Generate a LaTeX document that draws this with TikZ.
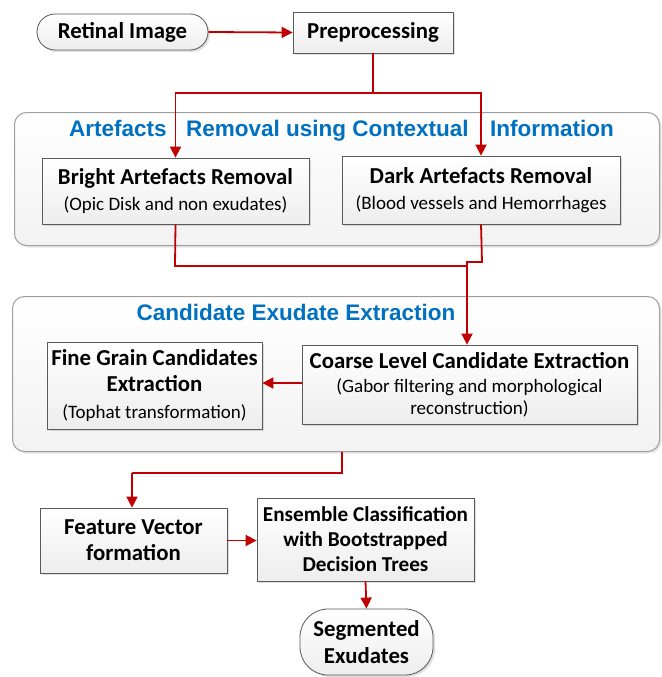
\documentclass[tikz,border=0pt]{standalone}
\usepackage{fontspec}
\setmainfont{Carlito}
\newfontfamily\titlefont{Liberation Sans}
\usetikzlibrary{shadows,arrows.meta,shapes.misc}
\definecolor{arrowred}{RGB}{192,0,0}
\definecolor{titleblue}{RGB}{0,112,192}
\definecolor{boxborder}{RGB}{90,90,90}
\newcommand{\subt}{\fontsize{19}{27}\selectfont\mdseries}
\tikzset{
  stepbox/.style={draw=boxborder, line width=0.8pt, top color=white, bottom color=gray!14,
    drop shadow={shadow xshift=2pt, shadow yshift=-2pt, opacity=0.25, fill=gray},
    align=center, inner sep=0pt, font=\fontsize{22.8}{26}\selectfont\bfseries},
  pill/.style={stepbox, rounded rectangle},
  container/.style={draw=gray!75, line width=1pt, rounded corners=12pt, top color=white, bottom color=gray!10,
    drop shadow={shadow xshift=2pt, shadow yshift=-2pt, opacity=0.2, fill=gray}},
  grptitle/.style={text=titleblue, font=\titlefont\fontsize{22.5}{26}\selectfont\bfseries, inner sep=0pt},
  flow/.style={draw=arrowred, line width=1.8pt},
  arr/.style={flow, -{Triangle[length=11pt,width=11pt]}},
}
\begin{document}
\begin{tikzpicture}[x=1pt,y=-1pt]
\useasboundingbox (0,0) rectangle (661,677);
\fill[white] (0,0) rectangle (661,677);
% containers
\node[container, minimum width=645pt, minimum height=133pt, anchor=north west] (c1) at (14,112) {};
\node[container, minimum width=647pt, minimum height=155pt, anchor=north west] (c2) at (12,296) {};
\node[grptitle, anchor=base west] (t1a) at (69,136) {Artefacts};
\node[grptitle, anchor=base west] (t1b) at (186,136) {Removal using Contextual};
\node[grptitle, anchor=base west] (t1c) at (490,136) {Information};
\node[grptitle, anchor=base] (t2) at (296,320) {Candidate Exudate Extraction};
% nodes
\node[pill, minimum width=171pt, minimum height=36pt] (ret) at (122.5,32) {Retinal Image};
\node[stepbox, minimum width=160pt, minimum height=41pt] (pre) at (373,32.5) {Preprocessing};
\node[stepbox, minimum width=267pt, minimum height=66pt] (bright) at (175.5,191) {Bright Artefacts Removal\\\subt (Opic Disk and non exudates)};
\node[stepbox, minimum width=278pt, minimum height=68pt] (dark) at (481,190) {Dark Artefacts Removal\\\subt (Blood vessels and Hemorrhages};
\node[stepbox, minimum width=215pt, minimum height=87pt] (fine) at (154.5,385.5) {Fine Grain Candidates\\Extraction\\[1pt]\subt (Tophat transformation)};
\node[stepbox, minimum width=335pt, minimum height=79pt] (coarse) at (469.5,384.5) {Coarse Level Candidate Extraction\\[-2pt]\subt (Gabor filtering and morphological\\[-4pt]\subt reconstruction)};
\node[stepbox, minimum width=187pt, minimum height=65pt] (feat) at (133.5,540.5) {Feature Vector\\formation};
\node[stepbox, minimum width=217pt, minimum height=83pt, font=\fontsize{21.2}{25}\selectfont\bfseries] (ens) at (365.5,539.5) {Ensemble Classification\\with Bootstrapped\\Decision Trees};
\node[stepbox, rounded corners=28pt, minimum width=133pt, minimum height=66pt, font=\fontsize{22.8}{27}\selectfont\bfseries] (seg) at (366.5,642) {Segmented\\Exudates};
% connectors
\coordinate (split) at (373,93);
\draw[arr] (ret.east) -- (pre.west);
\draw[flow] (pre.south) -- (split);
\draw[arr] (split) -| (bright.north);
\draw[arr] (split) -| (dark.north);
\coordinate (j1) at (175,266);
\coordinate (j2) at (467,266);
\coordinate (j3) at (482,262);
\draw[flow] (bright.south) -- (j1) -- (j2);
\draw[flow] (dark.south) -- (j3) -- (467,262) -- (j2);
\draw[arr] (j2) -- (j2 |- coarse.north);
\draw[arr] (coarse.west |- 0,383) -- (fine.east |- 0,383);
\coordinate (k1) at (342,473);
\coordinate (k2) at (132,473);
\draw[flow] (c2.south -| k1) -- (k1) -- (k2);
\draw[arr] (k2) -- (k2 |- feat.north);
\draw[arr] (feat.east) -- (ens.west |- feat.east);
\draw[arr] (ens.south) -- (seg.north);
\end{tikzpicture}
\end{document}
